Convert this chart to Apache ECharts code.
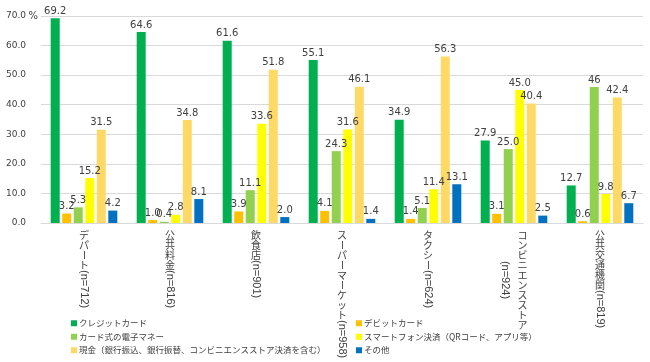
<!DOCTYPE html>
<html>
<head>
<meta charset="utf-8">
<script src="https://cdn.jsdelivr.net/npm/echarts@6/dist/echarts.min.js"></script>
<style>html,body{margin:0;padding:0;background:#fff;}#c{width:650px;height:362px;}</style>
</head>
<body>
<div id="c"></div>
<script>
const categories = ['デパート(n=712)', '公共料金(n=816)', '飲食店(n=901)', 'スーパーマーケット(n=958)', 'タクシー(n=624)', 'コンビニエンスストア\n(n=924)', '公共交通機関(n=819)'];
const seriesNames = ['クレジットカード', 'デビットカード', 'カード式の電子マネー', 'スマートフォン決済（QRコード、アプリ等）', '現金（銀行振込、銀行振替、コンビニエンスストア決済を含む）', 'その他'];
const creditCard = ['69.2', '64.6', '61.6', '55.1', '34.9', '27.9', '12.7'];
const debitCard = ['3.2', '1.0', '3.9', '4.1', '1.4', '3.1', '0.6'];
const cardEMoney = ['5.3', '0.4', '11.1', '24.3', '5.1', '25.0', '46'];
const smartphone = ['15.2', '2.8', '33.6', '31.6', '11.4', '45.0', '9.8'];
const cash = ['31.5', '34.8', '51.8', '46.1', '56.3', '40.4', '42.4'];
const other = ['4.2', '8.1', '2.0', '1.4', '13.1', '2.5', '6.7'];
const yTicks = { min: 0, max: 70, interval: 10 };
const yUnit = '%';

const seriesValues = [creditCard, debitCard, cardEMoney, smartphone, cash, other];
const colors = ['#00B050', '#FFC000', '#92D050', '#FFFF00', '#FFD966', '#0070C0'];

const chart = echarts.init(document.getElementById('c'), null, { renderer: 'canvas' });

const legendCommon = {
  orient: 'vertical', itemWidth: 6, itemHeight: 6, itemGap: 5, padding: 0,
  icon: 'rect',
  textStyle: { fontSize: 8.5, color: '#404040', fontFamily: '"Noto Sans CJK JP"', padding: [0, 0, 0, -3] }
};

const option = {
  animation: false,
  backgroundColor: '#fff',
  color: colors,
  grid: { left: 41, right: 7, top: 16, bottom: 139, containLabel: false },
  legend: [
    Object.assign({ left: 71, top: 319, data: [seriesNames[0], seriesNames[2], seriesNames[4]] }, legendCommon),
    Object.assign({ left: 356, top: 319, data: [seriesNames[1], seriesNames[3], seriesNames[5]] }, legendCommon)
  ],
  xAxis: {
    type: 'category',
    data: categories,
    axisLine: { lineStyle: { color: '#d9d9d9' } },
    axisTick: { show: false },
    axisLabel: { show: false }
  },
  yAxis: {
    type: 'value',
    min: yTicks.min, max: yTicks.max, interval: yTicks.interval,
    axisLine: { show: false },
    axisTick: { show: false },
    splitLine: { lineStyle: { color: '#d9d9d9' } },
    axisLabel: {
      margin: 15, fontSize: 9, color: '#404040', fontFamily: '"DejaVu Sans"',
      formatter: v => v.toFixed(1)
    }
  },
  series: seriesNames.map((name, si) => ({
    name: name,
    type: 'bar',
    barWidth: 9,
    barGap: '28%',
    data: seriesValues[si].map(Number),
    label: {
      show: true, position: 'top', distance: 2,
      fontSize: 10, color: '#404040', fontFamily: '"DejaVu Sans"',
      formatter: p => seriesValues[p.seriesIndex][p.dataIndex]
    }
  }))
};
chart.setOption(option);

// Vertical (tategaki) category labels placed from the category axis positions
const cjkFont = '10px "Noto Sans CJK JP"';
const asciiFont = '11px "Liberation Sans"';
const pitch = 10;
const colSpacing = 17;
const labelTop = 230;
const mctx = document.createElement('canvas').getContext('2d');
function tokenize(col) {
  const tokens = [];
  const re = /[\x20-\x7E]+|[^\x20-\x7E]/g;
  let m;
  while ((m = re.exec(col)) !== null) {
    const t = m[0];
    if (/^[\x20-\x7E]+$/.test(t)) {
      mctx.font = asciiFont;
      tokens.push({ type: 'ascii', text: t, len: mctx.measureText(t).width });
    } else {
      tokens.push({ type: 'cjk', text: t, len: pitch });
    }
  }
  return tokens;
}
const graphics = [];
categories.forEach((cat, i) => {
  const cx = chart.convertToPixel({ xAxisIndex: 0 }, cat);
  const cols = cat.split('\n').map(tokenize);
  const lens = cols.map(ts => ts.reduce((a, t) => a + t.len, 0));
  const maxLen = Math.max.apply(null, lens);
  const n = cols.length;
  cols.forEach((tokens, ci) => {
    const colX = cx + ((n - 1) / 2 - ci) * colSpacing;
    let y = labelTop + (maxLen - lens[ci]) / 2;
    tokens.forEach(t => {
      if (t.type === 'ascii') {
        graphics.push({
          type: 'text', x: colX, y: y, rotation: -Math.PI / 2, silent: true,
          style: { text: t.text, font: asciiFont, fill: '#404040', align: 'left', textAlign: 'left', verticalAlign: 'middle', textVerticalAlign: 'middle' }
        });
      } else {
        const rot = (t.text === 'ー') ? -Math.PI / 2 : 0;
        graphics.push({
          type: 'text', x: colX, y: y + pitch / 2, rotation: rot, silent: true,
          style: { text: t.text, font: cjkFont, fill: '#404040', align: 'center', textAlign: 'center', verticalAlign: 'middle', textVerticalAlign: 'middle' }
        });
      }
      y += t.len;
    });
  });
});
// unit label beside the top tick label
const topPt = chart.convertToPixel({ xAxisIndex: 0, yAxisIndex: 0 }, [0, yTicks.max]);
const gridLeftX = chart.convertToPixel({ xAxisIndex: 0 }, categories[0]) - chart.getModel().getComponent('xAxis', 0).axis.getBandWidth() / 2;
graphics.push({
  type: 'text', x: gridLeftX - 3, y: topPt[1], silent: true,
  style: { text: yUnit, font: '10px "DejaVu Sans"', fill: '#404040', align: 'right', textAlign: 'right', verticalAlign: 'middle', textVerticalAlign: 'middle' }
});
chart.setOption({ graphic: graphics });
</script>
</body>
</html>
